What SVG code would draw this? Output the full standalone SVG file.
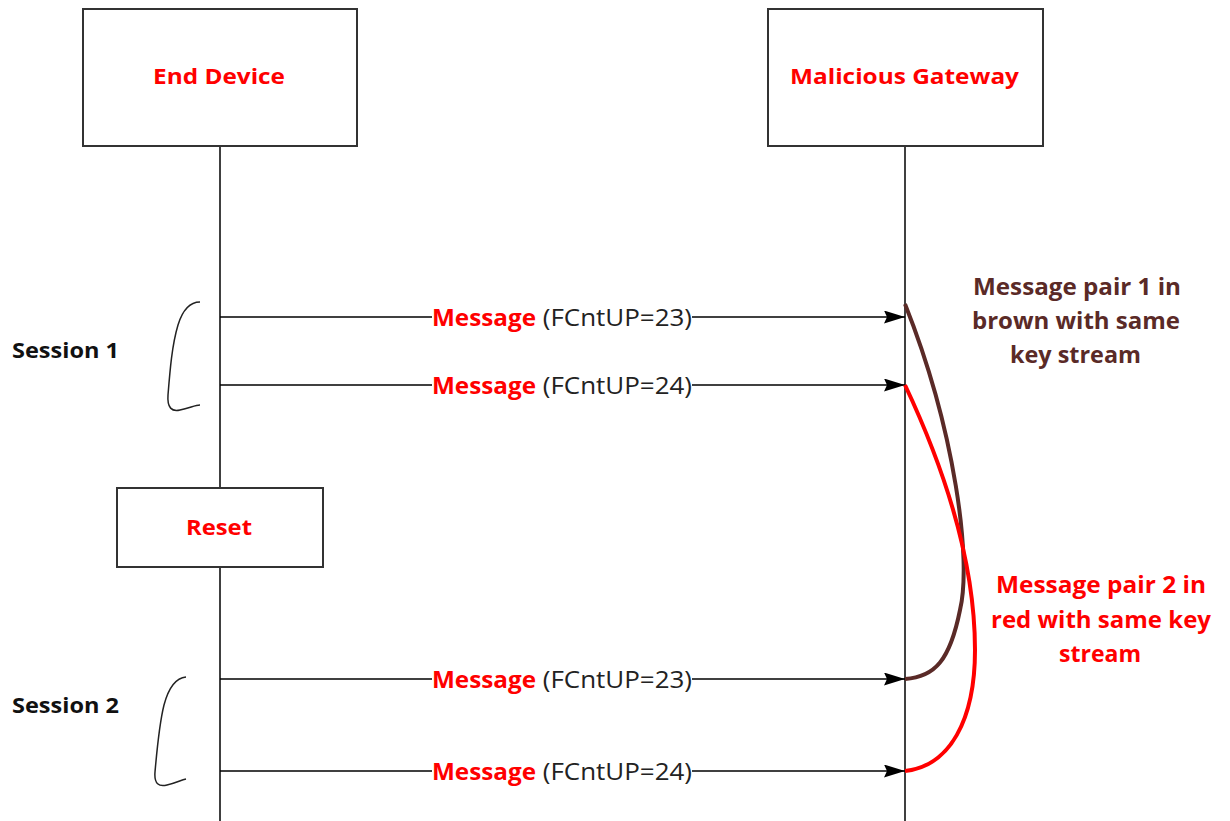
<svg xmlns="http://www.w3.org/2000/svg" width="1230" height="821" viewBox="0 0 1230 821">
<style>
.box{fill:#fff;stroke:#333;stroke-width:2}
.life{stroke:#000;stroke-width:1.5;fill:none}
.msg{stroke:#000;stroke-width:1.5;fill:none}
.t{font-family:"Open Sans","Liberation Sans",sans-serif;font-weight:bold}
.red{fill:#ff0000}
.lbl{font-family:"Open Sans","Liberation Sans",sans-serif;font-size:24px}
.brk{stroke:#222;stroke-width:1.5;fill:none}
</style>
<defs>
<marker id="ah" markerWidth="21" markerHeight="13" refX="21" refY="6.5" orient="auto" markerUnits="userSpaceOnUse">
<path d="M0,0 L21,6.5 L0,13 L3,6.5 Z" fill="#000"/>
</marker>
</defs>
<rect width="1230" height="821" fill="#fff"/>
<g id="lifelines">
<line class="life" x1="220" y1="145" x2="220" y2="488"/>
<line class="life" x1="220" y1="567" x2="220" y2="821"/>
<line class="life" x1="905" y1="145" x2="905" y2="821"/>
</g>
<g id="end-device">
<rect class="box" x="83" y="9" width="274" height="137"/>
<text class="t red" x="153" y="84" font-size="22" textLength="132" lengthAdjust="spacingAndGlyphs">End Device</text>
</g>
<g id="malicious-gateway">
<rect class="box" x="768" y="9" width="275" height="137"/>
<text class="t red" x="790" y="84" font-size="22" textLength="229" lengthAdjust="spacingAndGlyphs">Malicious Gateway</text>
</g>
<g id="reset">
<rect class="box" x="117" y="488" width="206" height="79"/>
<text class="t red" x="186" y="535" font-size="22" textLength="66" lengthAdjust="spacingAndGlyphs">Reset</text>
</g>
<g id="connectors">
<line class="msg" x1="220" y1="317" x2="905" y2="317" marker-end="url(#ah)"/>
<line class="msg" x1="220" y1="385" x2="905" y2="385" marker-end="url(#ah)"/>
<line class="msg" x1="220" y1="679" x2="905" y2="679" marker-end="url(#ah)"/>
<line class="msg" x1="220" y1="771" x2="905" y2="771" marker-end="url(#ah)"/>
<path d="M905,304 C955,430 972,560 960,610 C950,660 935,677 905,679" stroke="#5a2a27" stroke-width="4" fill="none"/>
<path d="M905,385 C945,470 975,560 975,650 C975,720 950,766 905,771" stroke="#ff0000" stroke-width="4" fill="none"/>
</g>
<g id="labels">
<g>
<rect x="432" y="302" width="260" height="30" fill="#fff"/>
<text class="lbl" x="432" y="326"><tspan class="red" font-weight="bold" textLength="104" lengthAdjust="spacingAndGlyphs">Message</tspan><tspan fill="#222" x="536" textLength="156" lengthAdjust="spacingAndGlyphs"> (FCntUP=23)</tspan></text>
</g>
<g>
<rect x="432" y="370" width="260" height="30" fill="#fff"/>
<text class="lbl" x="432" y="394"><tspan class="red" font-weight="bold" textLength="104" lengthAdjust="spacingAndGlyphs">Message</tspan><tspan fill="#222" x="536" textLength="156" lengthAdjust="spacingAndGlyphs"> (FCntUP=24)</tspan></text>
</g>
<g>
<rect x="432" y="664" width="260" height="30" fill="#fff"/>
<text class="lbl" x="432" y="688"><tspan class="red" font-weight="bold" textLength="104" lengthAdjust="spacingAndGlyphs">Message</tspan><tspan fill="#222" x="536" textLength="156" lengthAdjust="spacingAndGlyphs"> (FCntUP=23)</tspan></text>
</g>
<g>
<rect x="432" y="756" width="260" height="30" fill="#fff"/>
<text class="lbl" x="432" y="780"><tspan class="red" font-weight="bold" textLength="104" lengthAdjust="spacingAndGlyphs">Message</tspan><tspan fill="#222" x="536" textLength="156" lengthAdjust="spacingAndGlyphs"> (FCntUP=24)</tspan></text>
</g>
</g>
<g id="session-1">
<text class="t" x="12" y="358" font-size="22" fill="#111" textLength="107" lengthAdjust="spacingAndGlyphs">Session 1</text>
<path class="brk" d="M200,302 C188,302 182,312 178,325 C172,345 170,370 168,395 C167,408 172,412 180,410 C190,408 195,405 200,405"/>
</g>
<g id="session-2">
<text class="t" x="12" y="713" font-size="22" fill="#111" textLength="107" lengthAdjust="spacingAndGlyphs">Session 2</text>
<path class="brk" d="M186,677 C175,678 168,690 164,705 C159,725 157,750 155,772 C154,784 159,787 167,785 C176,783 181,780 186,779"/>
</g>
<g id="note-pair-1" class="t" font-size="23" fill="#5a2a27">
<text x="973" y="295" textLength="208" lengthAdjust="spacingAndGlyphs">Message pair 1 in</text>
<text x="972" y="329" textLength="208" lengthAdjust="spacingAndGlyphs">brown with same</text>
<text x="1010" y="363" textLength="131" lengthAdjust="spacingAndGlyphs">key stream</text>
</g>
<g id="note-pair-2" class="t" font-size="23" fill="#ff0000">
<text x="996" y="593" textLength="210" lengthAdjust="spacingAndGlyphs">Message pair 2 in</text>
<text x="991" y="628" textLength="220" lengthAdjust="spacingAndGlyphs">red with same key</text>
<text x="1059" y="662" textLength="82" lengthAdjust="spacingAndGlyphs">stream</text>
</g>
</svg>
